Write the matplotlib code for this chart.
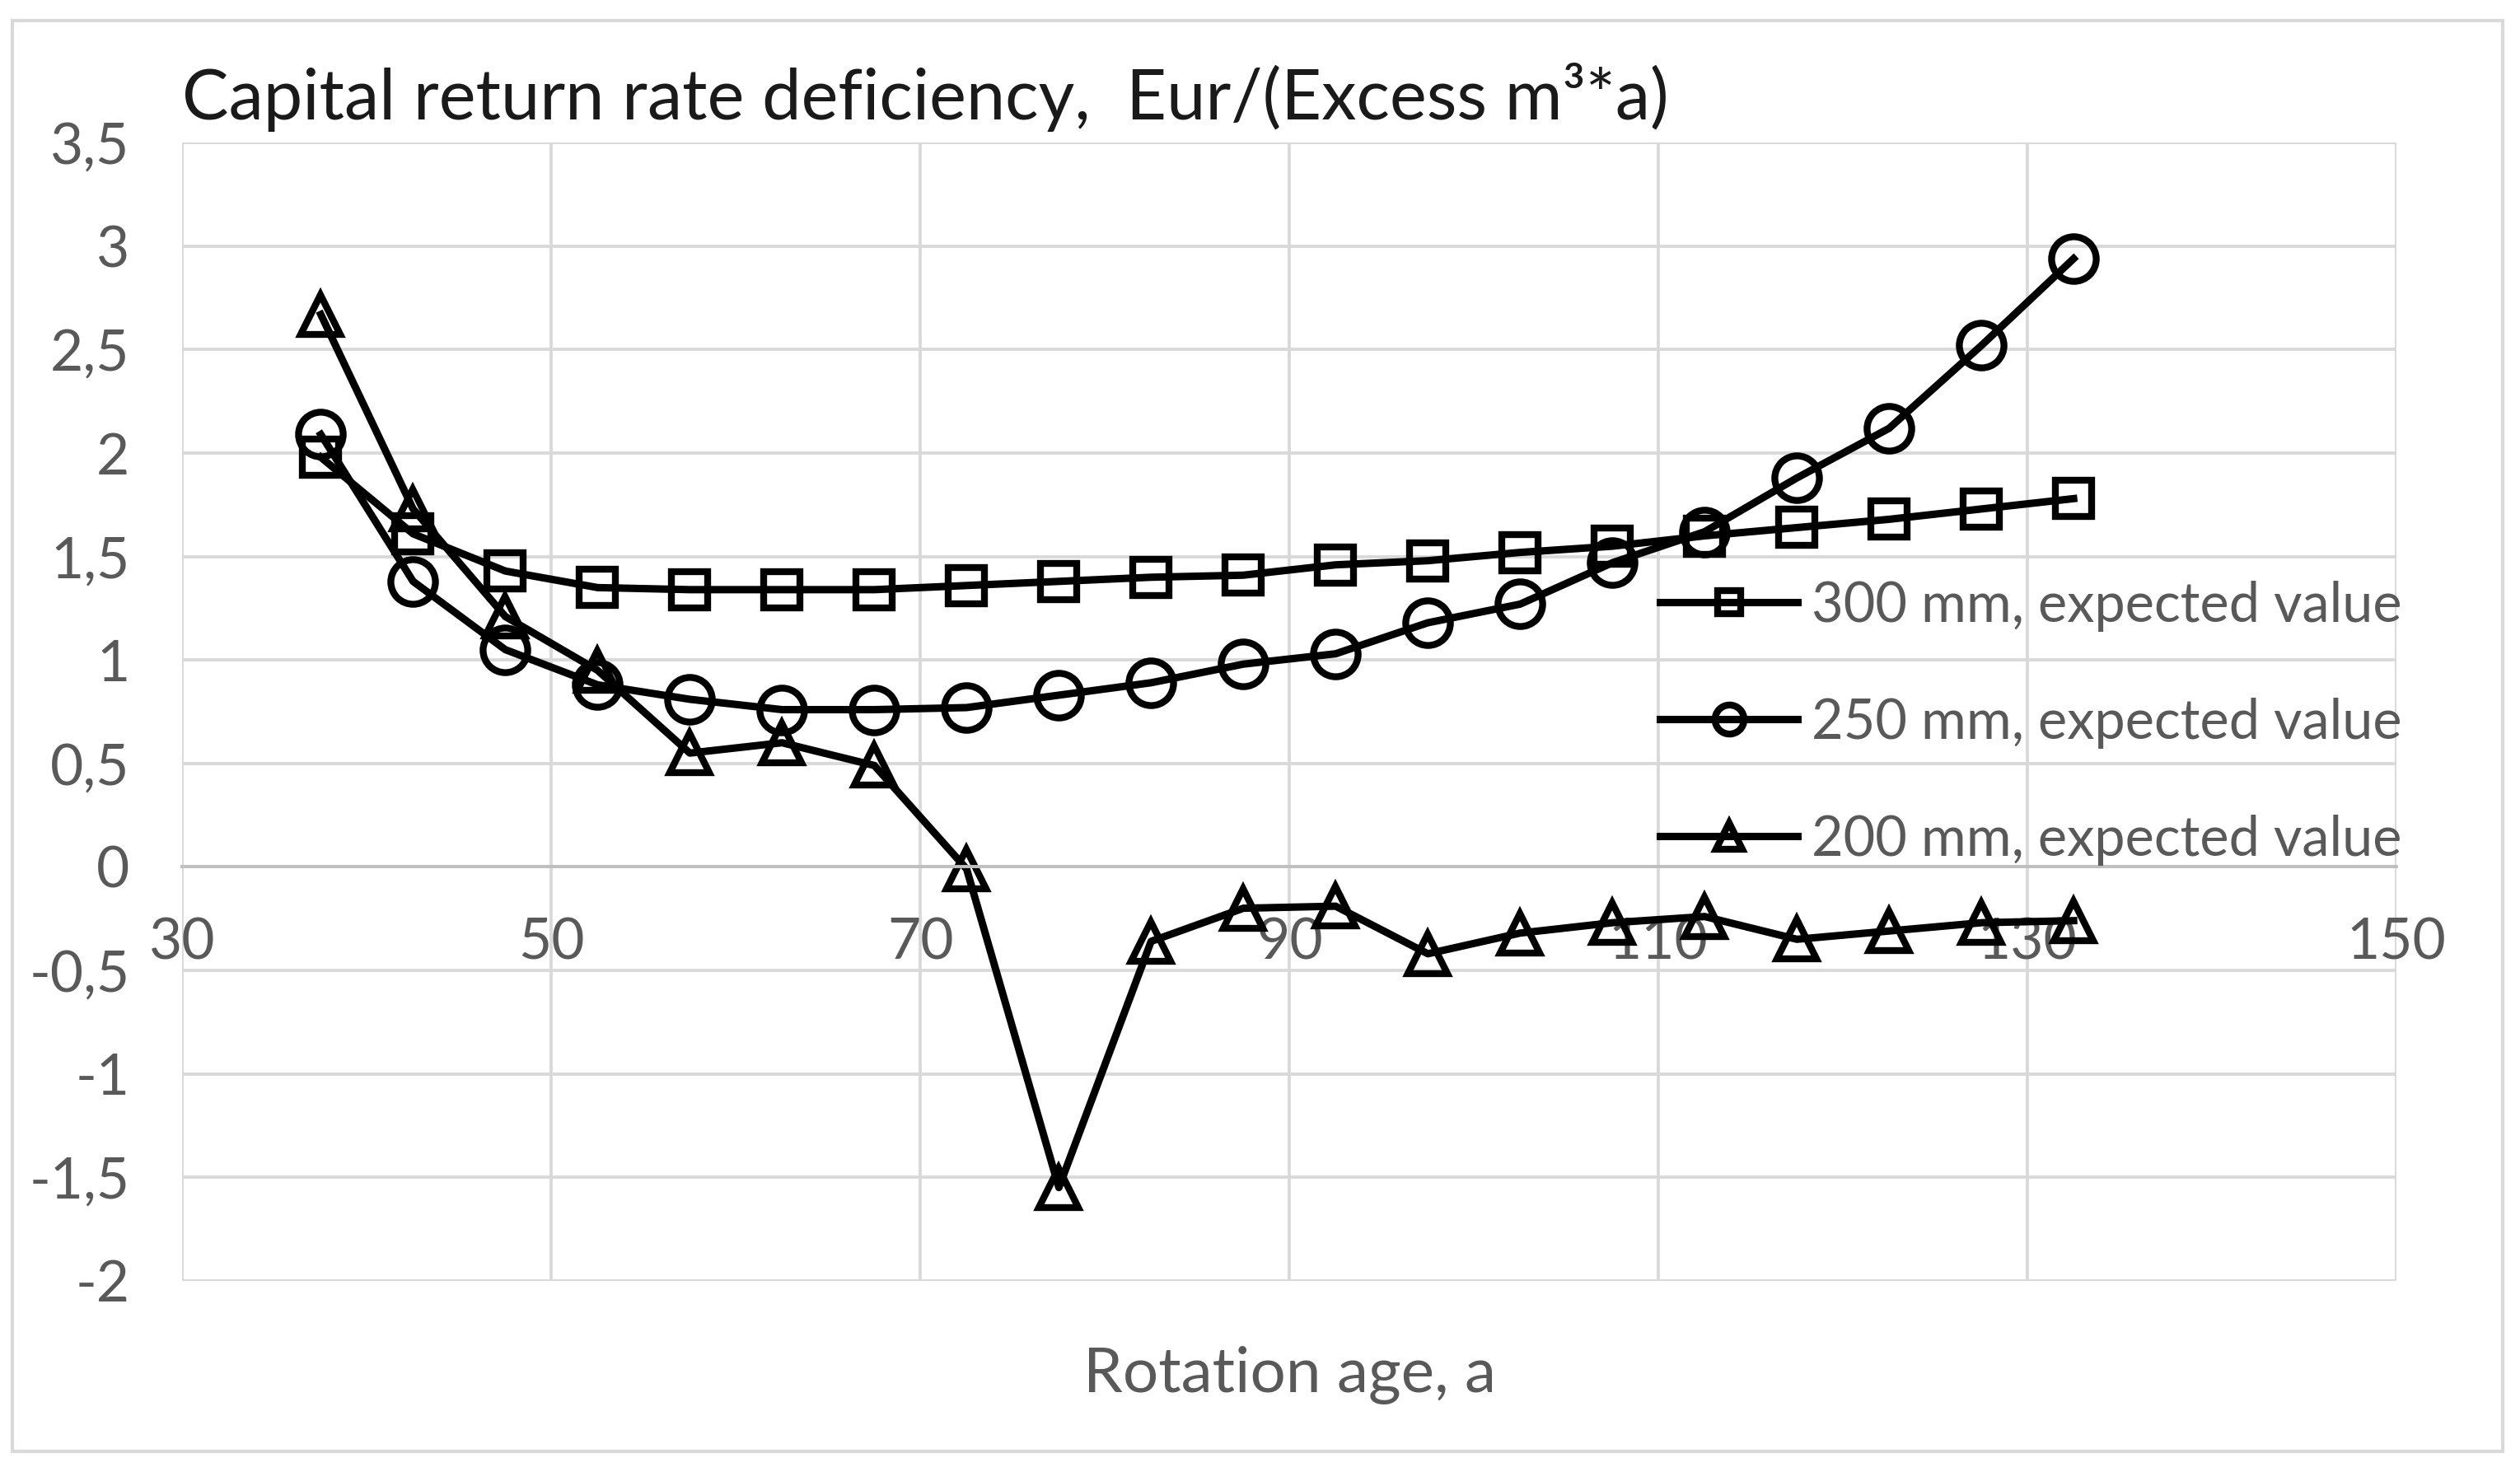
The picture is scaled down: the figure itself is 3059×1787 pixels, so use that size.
import numpy as np
import matplotlib
matplotlib.use('Agg')
import matplotlib.pyplot as plt
from matplotlib.patches import Rectangle

plt.rcParams['font.family'] = ['Lato', 'DejaVu Sans']

# rotation age (a)
age = [37.5, 42.5, 47.5, 52.5, 57.5, 62.5, 67.5, 72.5, 77.5, 82.5,
       87.5, 92.5, 97.5, 102.5, 107.5, 112.5, 117.5, 122.5, 127.5, 132.5]

# capital return rate deficiency, Eur/(excess m3*a)
mm300 = [1.98, 1.61, 1.43, 1.35, 1.34, 1.34, 1.34, 1.36, 1.38, 1.40,
         1.41, 1.46, 1.48, 1.52, 1.55, 1.60, 1.64, 1.68, 1.73, 1.78]
mm250 = [2.09, 1.38, 1.05, 0.88, 0.81, 0.76, 0.76, 0.77, 0.83, 0.89,
         0.98, 1.03, 1.18, 1.27, 1.47, 1.62, 1.88, 2.12, 2.52, 2.94]
mm200 = [2.67, 1.73, 1.21, 0.95, 0.55, 0.60, 0.49, -0.01, -1.55, -0.36,
         -0.20, -0.19, -0.42, -0.32, -0.27, -0.24, -0.35, -0.31, -0.27, -0.26]

labels = ['300 mm, expected value', '250 mm, expected value', '200 mm, expected value']
x_ticks = [30, 50, 70, 90, 110, 130, 150]
y_ticks = [-2, -1.5, -1, -0.5, 0, 0.5, 1, 1.5, 2, 2.5, 3, 3.5]

grey = '#595959'
grid = '#d9d9d9'

fig = plt.figure(figsize=(30.59, 17.87), dpi=100)
ax = fig.add_axes([0.0724, 0.130, 0.951 - 0.0724, 0.903 - 0.130])

common = dict(color='black', linewidth=6.5, markerfacecolor='none',
              markeredgecolor='black', markeredgewidth=6)
ax.plot(age, mm300, marker='s', markersize=32, label=labels[0], **common)
ax.plot(age, mm250, marker='o', markersize=39, label=labels[1], **common)
ax.plot(age, mm200, marker='^', markersize=35, label=labels[2], **common)

ax.set_xlim(30, 150)
ax.set_ylim(-2, 3.5)
ax.set_xticks(x_ticks)
ax.set_yticks(y_ticks)
ax.set_yticklabels([('%g' % v).replace('.', ',') for v in y_ticks])
ax.grid(True, color=grid, linewidth=2.8)
ax.set_axisbelow(True)

for s in ['top', 'right', 'left']:
    ax.spines[s].set_visible(False)
ax.spines['bottom'].set_position(('data', 0))
ax.spines['bottom'].set_color('#bfbfbf')
ax.spines['bottom'].set_linewidth(2.8)

ax.tick_params(axis='both', length=0, labelsize=50, labelcolor=grey)
ax.tick_params(axis='y', pad=46)
ax.tick_params(axis='x', pad=44)

ax.legend(loc='center left', bbox_to_anchor=(0.655, 0.49), frameon=False,
          fontsize=48, labelcolor=grey, handlelength=2.5, handletextpad=0.25,
          labelspacing=1.2, borderpad=0, markerscale=0.65)

fig.text(0.0724, 0.934, 'Capital return rate deficiency,  Eur/(Excess m³*a)',
         fontsize=61, color='#1a1a1a', ha='left', va='center')
fig.text((0.0724 + 0.951) / 2, 0.066, 'Rotation age, a',
         fontsize=55, color=grey, ha='center', va='center')

fig.patches.append(Rectangle((0.005, 0.014), 0.988, 0.972, transform=fig.transFigure,
                             fill=False, edgecolor=grid, linewidth=3))

plt.savefig('out.png')
